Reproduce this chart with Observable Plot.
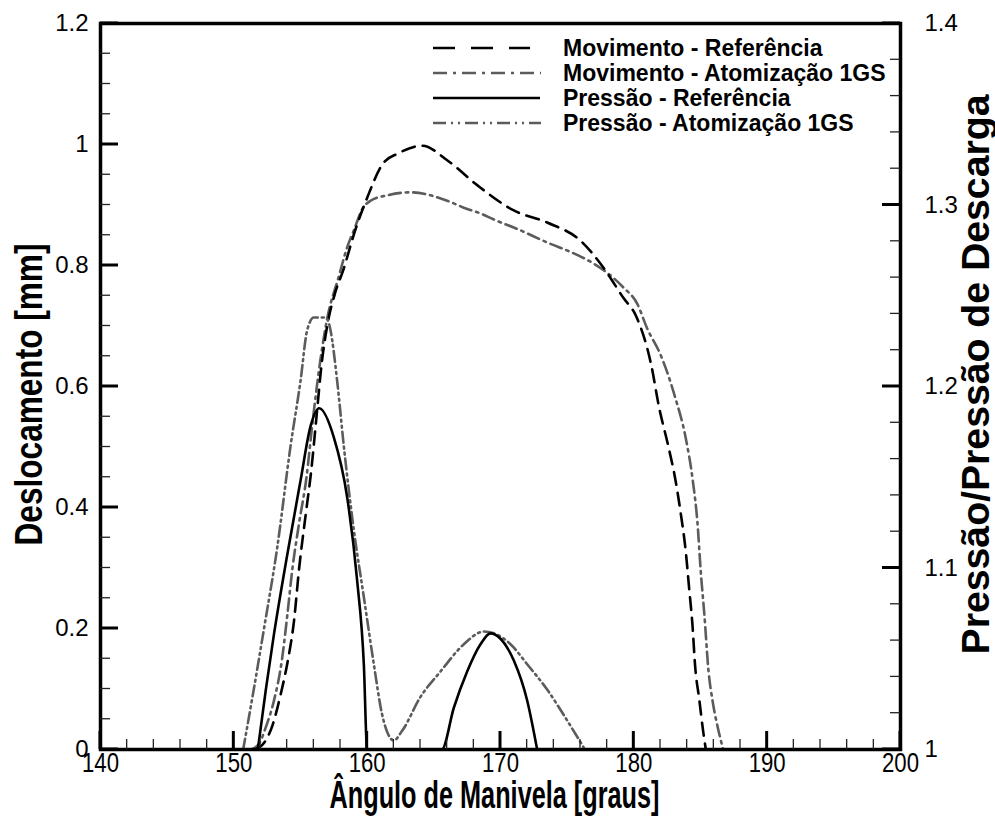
<!DOCTYPE html>
<html>
<head>
<meta charset="utf-8">
<script src="https://cdn.jsdelivr.net/npm/d3@7"></script>
<script src="https://cdn.jsdelivr.net/npm/@observablehq/plot@0.6"></script>
<style>
  body { margin: 0; background: #fff; }
  #chart svg { display: block; }
</style>
</head>
<body>
<div id="chart"></div>
<script>
// ---------- data ----------
// Movimento - Referência : angle (graus) / deslocamento (mm)
const movRefAngle = [151.6, 152.3, 152.9, 153.5, 154.05, 154.5, 154.9, 155.4, 155.8, 156.2, 156.6, 157.0, 157.6, 158.2, 159.1, 160.0, 161.2, 162.3, 164.15, 166.0, 168.3, 171.0, 173.5, 176.0, 177.7, 179.2, 180.2, 181.3, 181.9, 182.6, 183.1, 183.5, 183.9, 184.15, 184.4, 184.6, 184.9, 185.2, 185.4];
const movRefDisp  = [0, 0.012, 0.04, 0.09, 0.147, 0.21, 0.30, 0.39, 0.46, 0.55, 0.64, 0.70, 0.755, 0.792, 0.858, 0.912, 0.969, 0.985, 0.998, 0.974, 0.932, 0.891, 0.871, 0.841, 0.797, 0.747, 0.715, 0.636, 0.565, 0.50, 0.448, 0.393, 0.326, 0.266, 0.205, 0.137, 0.084, 0.03, 0];

// Movimento - Atomização 1GS
const movAtoAngle = [151.3, 151.9, 152.4, 153.0, 153.6, 154.0, 154.4, 154.9, 155.45, 155.9, 156.5, 157.0, 157.85, 158.5, 159.0, 159.65, 160.25, 161.5, 163.25, 164.75, 166.0, 167.2, 168.5, 169.5, 171.3, 173.5, 175.5, 177.0, 178.0, 179.2, 180.25, 181.0, 182.05, 183.1, 183.9, 184.4, 184.8, 185.0, 185.3, 185.6, 185.9, 186.3, 186.7];
const movAtoDisp  = [0, 0.01, 0.037, 0.08, 0.147, 0.22, 0.30, 0.375, 0.45, 0.54, 0.645, 0.712, 0.78, 0.83, 0.858, 0.894, 0.907, 0.916, 0.921, 0.916, 0.907, 0.896, 0.886, 0.876, 0.86, 0.838, 0.82, 0.803, 0.788, 0.764, 0.737, 0.696, 0.65, 0.582, 0.514, 0.448, 0.367, 0.30, 0.22, 0.13, 0.081, 0.036, 0];

// Pressão - Referência : angle / pressão relativa
const preRefAngle = [151.8, 152.4, 153.0, 154.0, 155.0, 155.75, 156.4, 157.5, 158.5, 159.25, 159.75, 160.0, 165.6, 166.5, 167.5, 168.5, 169.25, 170.0, 171.0, 172.0, 172.75];
const preRefPress = [1.000, 1.033, 1.063, 1.107, 1.148, 1.178, 1.188, 1.172, 1.139, 1.093, 1.047, 1.000, 1.000, 1.023, 1.043, 1.058, 1.064, 1.061, 1.049, 1.027, 1.000];

// Pressão - Atomização 1GS
const preAtoAngle = [150.7, 151.4, 152.25, 153.25, 154.25, 155.0, 155.5, 156.0, 156.9, 157.25, 157.75, 158.25, 159.0, 159.75, 160.5, 161.1, 161.6, 162.0, 162.6, 164.0, 165.5, 167.25, 168.75, 169.5, 170.75, 172.0, 173.5, 175.0, 176.25];
const preAtoPress = [1.000, 1.029, 1.066, 1.111, 1.167, 1.203, 1.231, 1.238, 1.238, 1.231, 1.203, 1.167, 1.121, 1.084, 1.047, 1.020, 1.008, 1.005, 1.010, 1.029, 1.043, 1.058, 1.065, 1.064, 1.058, 1.047, 1.033, 1.016, 1.001];

// ticks
const xTicks = [140, 150, 160, 170, 180, 190, 200];
const xTickLabels = ["140", "150", "160", "170", "180", "190", "200"];
const yTicks = [0, 0.2, 0.4, 0.6, 0.8, 1, 1.2];
const yTickLabels = ["0", "0.2", "0.4", "0.6", "0.8", "1", "1.2"];
const pTicks = [1, 1.1, 1.2, 1.3, 1.4];
const pTickLabels = ["1", "1.1", "1.2", "1.3", "1.4"];

const legendLabels = ["Movimento - Referência", "Movimento - Atomização 1GS", "Pressão - Referência", "Pressão - Atomização 1GS"];
const xTitle = "Ângulo de Manivela [graus]";
const yTitle = "Deslocamento [mm]";
const y2Title = "Pressão/Pressão de Descarga";

// ---------- helpers ----------
const xMin = 140, xMax = 200;
const pMin = 1, pMax = 1.4, yMax = 1.2;
const pToY = p => (p - pMin) / (pMax - pMin) * yMax;   // right scale -> left scale
const zip = (a, b, k) => a.map((v, i) => ({angle: v, [k]: b[i]}));

const movRef = zip(movRefAngle, movRefDisp, "v");
const movAto = zip(movAtoAngle, movAtoDisp, "v");
const preRef = zip(preRefAngle, preRefPress, "p");
const preAto = zip(preAtoAngle, preAtoPress, "p");

const xMinor = d3.range(140, 200.001, 2).filter(v => !xTicks.includes(v));
const yMinor = d3.range(0, 1.2001, 0.05).map(v => +v.toFixed(3)).filter(v => !yTicks.some(t => Math.abs(t - v) < 1e-6));
const pMinor = d3.range(1, 1.4001, 0.02).map(v => +v.toFixed(3)).filter(v => !pTicks.some(t => Math.abs(t - v) < 1e-6));

const GRAY = "#5c5c5c";
const SANS = "'Liberation Sans', Arial, Helvetica, sans-serif";

const styles = {
  movRef: {stroke: "black", dash: "13,8", width: 2.6, legendDash: "22,16", legendEnd: 530},
  movAto: {stroke: GRAY, dash: "12,5,2.5,5", width: 2.6, legendDash: "14,6,3,6", legendEnd: 541},
  preRef: {stroke: "black", dash: null, width: 2.6, legendDash: null, legendEnd: 540},
  preAto: {stroke: GRAY, dash: "11,4,2,4,2,4", width: 2.6, legendDash: "13,5,2,5,2,5", legendEnd: 541}
};

const W = 995, H = 817, ML = 100, MR = 95, MT = 23, MB = 68;
const MAJ = 18, MIN = 10;                   // tick lengths in px (inward)

const chart = Plot.plot({
  width: W,
  height: H,
  marginLeft: ML,
  marginRight: MR,
  marginTop: MT,
  marginBottom: MB,
  style: {background: "white", fontFamily: SANS, overflow: "visible"},
  x: {domain: [xMin, xMax]},
  y: {domain: [0, yMax]},
  marks: [
    Plot.line(movAto, {x: "angle", y: "v", stroke: styles.movAto.stroke, strokeWidth: styles.movAto.width, strokeDasharray: styles.movAto.dash, curve: "monotone-x"}),
    Plot.line(movRef, {x: "angle", y: "v", stroke: styles.movRef.stroke, strokeWidth: styles.movRef.width, strokeDasharray: styles.movRef.dash, curve: "monotone-x"}),
    Plot.line(preAto, {x: "angle", y: d => pToY(d.p), stroke: styles.preAto.stroke, strokeWidth: styles.preAto.width, strokeDasharray: styles.preAto.dash, curve: "monotone-x"}),
    Plot.line(preRef, {x: "angle", y: d => pToY(d.p), stroke: styles.preRef.stroke, strokeWidth: styles.preRef.width, curve: "monotone-x"}),

    // tick labels
    Plot.axisX({ticks: xTicks, tickSize: 0, tickPadding: 3,
      tickFormat: d => xTickLabels[xTicks.indexOf(d)], fontSize: 28, fill: "black", label: null, className: "xticklab"}),
    Plot.axisY({ticks: yTicks, tickSize: 0, tickPadding: 12,
      tickFormat: d => yTickLabels[yTicks.indexOf(d)], fontSize: 24, fill: "black", label: null}),
    Plot.axisY({anchor: "right", ticks: pTicks.map(pToY), tickSize: 0, tickPadding: 24,
      tickFormat: (d, i) => pTickLabels[i], fontSize: 24, fill: "black", label: null}),

    Plot.frame({stroke: "black", strokeWidth: 3.5}),

    // axis titles
    Plot.text([xTitle], {text: d => d, frameAnchor: "bottom", dx: -6, dy: 46, textAnchor: "middle", lineAnchor: "middle", fontSize: 38, fontWeight: "bold", fill: "black", className: "xtitle"}),
    Plot.text([yTitle], {text: d => d, frameAnchor: "left", dx: -71, dy: 8, rotate: -90, textAnchor: "middle", lineAnchor: "middle", fontSize: 38, fontWeight: "bold", fill: "black", className: "ytitle"}),
    Plot.text([y2Title], {text: d => d, frameAnchor: "right", dx: 76, dy: -12, rotate: -90, textAnchor: "middle", lineAnchor: "middle", fontSize: 38, fontWeight: "bold", fill: "black", className: "y2title"})
  ]
});

document.getElementById("chart").appendChild(chart);

const svg = d3.select(chart);

// ---------- inward tick marks, positioned through Plot's own scales ----------
const sx = chart.scale("x"), sy = chart.scale("y");
const X0 = sx.apply(xMin), X1 = sx.apply(xMax), Y0 = sy.apply(0);
const tg = svg.append("g").attr("class", "inward-ticks").attr("stroke-linecap", "butt");
function tick(x1, y1, x2, y2, major) {
  tg.append("line").attr("x1", x1).attr("y1", y1).attr("x2", x2).attr("y2", y2)
    .attr("stroke", major ? "black" : "#222").attr("stroke-width", major ? 3 : 1.3);
}
xMinor.forEach(v => { const x = sx.apply(v); tick(x, Y0, x, Y0 - MIN, false); });
xTicks.forEach(v => { const x = sx.apply(v); tick(x, Y0, x, Y0 - MAJ, true); });
yMinor.forEach(v => { const y = sy.apply(v); tick(X0, y, X0 + MIN, y, false); });
yTicks.forEach(v => { const y = sy.apply(v); tick(X0, y, X0 + MAJ, y, true); });
pMinor.forEach(p => { const y = sy.apply(pToY(p)); tick(X1, y, X1 - MIN, y, false); });
pTicks.forEach(p => { const y = sy.apply(pToY(p)); tick(X1, y, X1 - MAJ, y, true); });

// the reference uses a condensed face: squeeze glyphs along the baseline, about each text's anchor
function condenseTo(sel, target) {
  sel.each(function() {
    const w = this.getComputedTextLength();
    if (!w) return;
    const k = target / w;
    const x0 = parseFloat(this.getAttribute("x")) || 0;
    const tr = this.getAttribute("transform") || "";
    this.setAttribute("transform", `${tr} translate(${x0},0) scale(${k},1) translate(${-x0},0)`);
  });
}
condenseTo(svg.selectAll(".xtitle text"), 330);
condenseTo(svg.selectAll(".ytitle text"), 302);
condenseTo(svg.selectAll(".y2title text"), 560);
condenseTo(svg.selectAll(".xticklab text"), 37);

// ---------- legend (inside the frame, top right) ----------
const lg = svg.append("g").attr("class", "legend").attr("text-anchor", "start");
const keys = ["movRef", "movAto", "preRef", "preAto"];
keys.forEach((k, i) => {
  const y = 48 + i * 25;
  const s = styles[k];
  lg.append("line")
    .attr("x1", 433).attr("x2", s.legendEnd).attr("y1", y).attr("y2", y)
    .attr("stroke", s.stroke).attr("stroke-width", s.width)
    .attr("stroke-dasharray", s.legendDash);
  lg.append("text")
    .attr("x", 563).attr("y", y).attr("dy", "0.35em")
    .attr("text-anchor", "start")
    .attr("font-family", SANS).attr("font-weight", "bold").attr("font-size", 23)
    .attr("fill", "black")
    .text(legendLabels[i]);
});
</script>
</body>
</html>
